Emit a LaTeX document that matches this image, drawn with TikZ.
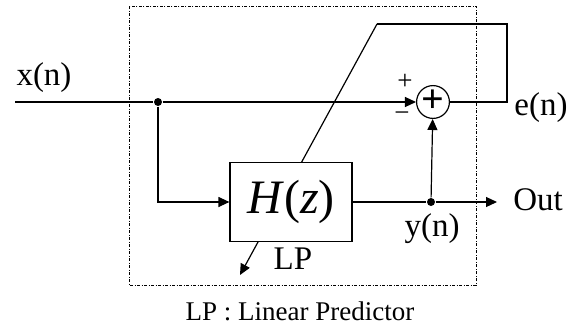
\documentclass[tikz,border=0pt]{standalone}
\usepackage{fontspec}
\setmainfont{Liberation Serif}
\usetikzlibrary{arrows.meta,positioning}

\begin{document}
\begin{tikzpicture}[x=1pt,y=-1pt,line width=1.2pt,
  lbl/.style={font=\fontsize{33}{35}\selectfont,inner sep=0pt},
  sgn/.style={font=\fontsize{27}{28}\selectfont,inner sep=0pt},
  blk/.style={draw,fill=white,minimum width=122pt,minimum height=79pt,inner sep=0pt,
    font=\fontsize{48}{50}\selectfont},
  sum/.style={draw,circle,fill=white,minimum size=29pt,inner sep=0pt,
    font=\fontsize{40}{40}\selectfont\bfseries},
  dot/.style={circle,fill,inner sep=0pt,minimum size=8pt},
  frame/.style={dash pattern=on 3pt off 1.5pt on 1pt off 1.5pt,line width=0.9pt},
  >={Triangle[length=11pt,width=10pt]}]
\useasboundingbox (0,0) rectangle (576,327);
\draw[frame] (129,6) rectangle (476,285);
\coordinate (adapt) at (377,24);
\coordinate (tip) at (240,275);
\draw[->] (adapt) -- (tip);
\node[blk] (filt) at (291,202) {\textit{H}(\textit{z})};
\node[sum] (add) at (433,102) {\raisebox{1pt}{+}};
\node[dot] (split) at (158,102) {};
\node[dot] (tap) at (431,202) {};
\coordinate (in) at (15,102);
\coordinate (out) at (497,202);
\coordinate (loop) at (507,102);
\draw (in) -- (split);
\draw[->] (split) -- (add);
\draw[->] (split) |- (filt);
\draw (filt) -- (tap);
\draw[->] (tap) -- (out);
\draw[->] (tap) -- (add);
\draw (add) -- (loop) |- (adapt);
% labels
\node[lbl] (xn) at (44,78) {x(n)};
\node[lbl] (en) at (541,108) {e(n)};
\node[lbl] (outl) at (538,200) {Out};
\node[lbl] (yn) at (432,229) {y(n)};
\node[lbl] (lp) at (293,259) {LP};
\node[sgn] (plus) at (405,82) {+};
\node[sgn] (minus) at (402,117) {−};
\node[lbl,font=\fontsize{27}{29}\selectfont] (cap) at (300,311) {LP : Linear Predictor};
\end{tikzpicture}
\end{document}
